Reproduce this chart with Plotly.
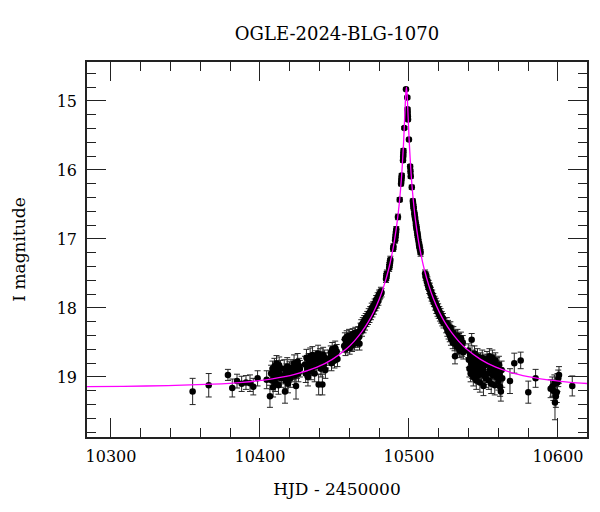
import plotly.graph_objects as go

# ---------------- data ----------------
hjd = [
    10354.8, 10365.6, 10378.5, 10381.4, 10384.6, 10387.7, 10390.6, 10393.3, 10395.5, 10398.4,
    10404.5, 10406.7,
    10407.5, 10408.0, 10408.4, 10408.8, 10409.3, 10409.7, 10410.2, 10410.6, 10411.1, 10411.5,
    10412.0, 10412.4, 10412.9, 10413.3, 10413.8, 10414.3,
    10415.8, 10416.3, 10416.8, 10417.3, 10417.8, 10418.3, 10418.8, 10419.3, 10419.8, 10420.3,
    10420.8, 10421.3,
    10422.4, 10422.9, 10423.4, 10423.9, 10424.2, 10424.8, 10425.3, 10425.8, 10426.3, 10426.8,
    10430.2, 10430.7, 10431.2, 10431.7, 10432.2, 10432.7, 10433.2, 10433.7, 10434.2, 10434.7,
    10435.2, 10435.7, 10436.2, 10436.7, 10437.2, 10437.7,
    10439.0, 10439.4, 10439.9, 10440.4, 10440.9, 10441.4, 10441.9, 10442.4, 10442.9, 10443.4,
    10443.9, 10444.4,
    10447.0, 10447.5, 10448.0, 10448.5, 10449.0, 10449.5, 10450.0, 10450.5, 10451.0, 10451.5,
    10452.0,
    10456.5, 10457.0, 10457.4, 10457.8, 10458.2, 10458.6, 10459.0, 10459.4, 10459.8, 10460.2,
    10460.6, 10461.0, 10461.4, 10461.8, 10462.2, 10462.6, 10463.0, 10463.5, 10464.0, 10464.5,
    10465.0, 10465.5, 10466.0, 10466.5, 10466.8,
    10467.5, 10468.0, 10468.5, 10469.0, 10469.5, 10470.0, 10470.5, 10471.0, 10471.5, 10472.0,
    10472.5, 10473.0, 10473.5, 10474.0, 10474.5, 10475.0, 10475.5, 10476.0, 10476.5, 10477.0,
    10477.5, 10478.0, 10478.5, 10479.0, 10479.5, 10480.0, 10480.4, 10480.8, 10481.2, 10481.6,
    10484.6, 10484.8, 10485.0, 10485.2, 10486.7, 10486.9, 10487.1, 10487.3, 10487.5,
    10489.4, 10489.6, 10490.7, 10490.9, 10491.1, 10491.3, 10491.5, 10492.6, 10493.8,
    10494.7, 10494.85, 10495.0, 10495.15, 10496.0, 10496.1, 10496.2, 10496.3, 10496.9,
    10498.0, 10498.9, 10499.05, 10499.15, 10499.25, 10499.35, 10500.0, 10500.8, 10501.0,
    10501.2, 10501.9,
    10502.6, 10502.8, 10503.0, 10503.2, 10503.6, 10503.8, 10504.0, 10504.2, 10504.6, 10504.8,
    10505.0, 10505.2, 10505.6, 10505.8, 10506.0, 10506.2, 10506.6, 10506.8, 10507.0, 10507.2,
    10507.6, 10507.8,
    10510.8, 10511.2, 10511.6, 10512.0, 10512.4, 10512.8, 10513.2, 10513.6, 10514.0, 10514.4,
    10514.8, 10515.2, 10515.6, 10516.0, 10516.4, 10516.8, 10517.2, 10517.6, 10518.0, 10518.4,
    10518.8, 10519.2, 10519.6, 10520.0, 10520.4, 10520.8, 10521.2, 10521.6, 10522.0, 10522.4,
    10522.8, 10523.2,
    10525.0, 10525.4, 10525.8, 10526.2, 10526.6, 10527.0, 10527.4, 10527.8, 10528.2, 10528.6,
    10529.0, 10529.4, 10529.8, 10530.2, 10530.6, 10530.9, 10531.3, 10531.7, 10532.1, 10532.5,
    10532.9, 10533.3, 10533.7, 10534.1, 10534.5, 10534.9, 10535.3, 10535.7, 10536.1, 10536.5,
    10542.1,
    10539.8, 10540.2, 10540.6, 10541.0, 10541.4, 10541.8, 10542.4, 10542.8, 10543.2, 10543.6,
    10544.0, 10544.4, 10544.8, 10545.2, 10545.6, 10546.0, 10546.4, 10546.8, 10547.2, 10547.6,
    10548.0, 10548.4, 10548.8, 10549.2, 10549.6, 10550.0, 10550.4, 10550.8, 10551.2, 10551.6,
    10552.4, 10552.8, 10553.2, 10553.6, 10554.0, 10554.4, 10554.8, 10555.2, 10555.6, 10556.0,
    10556.4, 10556.8, 10557.2, 10557.6, 10558.0, 10558.4, 10558.8, 10559.2, 10559.6, 10560.0,
    10560.4, 10560.8, 10561.2, 10561.7, 10562.2, 10562.6,
    10567.8, 10570.7, 10575.0, 10580.1, 10585.0,
    10595.1, 10596.2, 10596.9, 10597.6, 10598.0, 10598.6, 10599.2, 10599.7, 10600.2, 10600.7,
    10609.6,
]

imag = [
    19.21, 19.12, 18.97, 19.16, 19.06, 19.10, 19.08, 19.09, 19.14, 19.02,
    19.04, 19.28,
    18.95, 19.05, 18.88, 19.15, 18.98, 18.85, 19.08, 18.92, 18.80, 19.00,
    18.90, 19.12, 18.83, 18.96, 18.88, 19.02,
    18.98, 18.88, 19.21, 19.05, 18.93, 18.85, 19.10, 18.96, 18.90, 19.02,
    18.87, 18.95,
    18.92, 18.80, 18.98, 18.86, 19.13, 18.90, 18.78, 18.95, 18.84, 18.88,
    18.82, 18.95, 18.72, 18.88, 19.00, 18.78, 18.85, 18.70, 18.92, 18.80,
    18.68, 18.86, 18.76, 18.95, 18.73, 18.84,
    18.66, 19.11, 18.78, 18.70, 18.88, 18.75, 19.11, 18.68, 18.82, 18.72,
    18.90, 18.76,
    18.72, 18.65, 18.80, 18.60, 18.70, 18.66, 18.76, 18.58, 18.68, 18.63,
    18.74,
    18.55, 18.45, 18.60, 18.50, 18.42, 18.56, 18.47, 18.52, 18.40, 18.58,
    18.46, 18.50, 18.43, 18.54, 18.38, 18.48, 18.42, 18.52, 18.36, 18.45,
    18.40, 18.48, 18.35, 18.42, 18.52,
    18.30, 18.25, 18.33, 18.22, 18.28, 18.18, 18.24, 18.15, 18.20, 18.12,
    18.17, 18.08, 18.14, 18.05, 18.10, 18.00, 18.06, 17.97, 18.02, 17.93,
    17.98, 17.88, 17.94, 17.84, 17.90, 17.80, 17.82, 17.80, 17.76, 17.78,
    17.58, 17.55, 17.52, 17.50, 17.42, 17.39, 17.36, 17.33, 17.30,
    17.14, 17.11, 17.02, 16.98, 16.94, 16.90, 16.86, 16.68, 16.43,
    16.20, 16.16, 16.12, 16.08, 15.86, 15.81, 15.77, 15.72, 15.39,
    14.83, 14.95, 15.12, 15.17, 15.22, 15.27, 15.56, 15.95, 16.02,
    16.09, 16.25,
    16.45, 16.49, 16.53, 16.56, 16.62, 16.65, 16.68, 16.71, 16.77, 16.80,
    16.83, 16.86, 16.91, 16.94, 16.97, 17.00, 17.05, 17.08, 17.10, 17.13,
    17.17, 17.20,
    17.50, 17.55, 17.53, 17.62, 17.60, 17.68, 17.66, 17.73, 17.70, 17.79,
    17.76, 17.84, 17.80, 17.88, 17.85, 17.92, 17.89, 17.96, 17.93, 18.01,
    17.97, 18.05, 18.01, 18.08, 18.05, 18.12, 18.08, 18.15, 18.12, 18.19,
    18.15, 18.22,
    18.28, 18.22, 18.33, 18.26, 18.36, 18.30, 18.40, 18.28, 18.45, 18.34,
    18.38, 18.50, 18.36, 18.44, 18.52, 18.70, 18.42, 18.48, 18.56, 18.40,
    18.50, 18.58, 18.46, 18.62, 18.52, 18.44, 18.55, 18.60, 18.50, 18.64,
    18.46,
    18.62, 18.75, 18.88, 18.68, 18.95, 18.80, 18.90, 18.72, 19.00, 18.84,
    18.66, 18.93, 18.78, 19.05, 18.86, 18.70, 18.98, 18.82, 18.92, 19.08,
    18.76, 18.88, 18.96, 18.72, 18.90, 19.13, 18.84, 18.98, 18.78, 19.02,
    18.74, 18.95, 18.82, 19.05, 18.70, 18.90, 18.78, 19.10, 18.86, 18.72,
    18.98, 18.80, 18.92, 19.12, 18.76, 18.88, 19.00, 18.84, 18.94, 19.06,
    18.82, 18.96, 19.14, 19.21, 18.90, 19.02,
    19.06, 18.80, 18.76, 19.22, 19.02,
    19.17, 19.14, 19.20, 19.10, 19.37, 19.28, 19.22, 19.08, 19.02, 18.97,
    19.13,
]

ierr = [
    0.19, 0.17, 0.08, 0.13, 0.10, 0.11, 0.10, 0.12, 0.12, 0.11,
    0.13, 0.16,
    0.12, 0.13, 0.11, 0.14, 0.12, 0.12, 0.13, 0.12, 0.11, 0.12,
    0.12, 0.13, 0.12, 0.12, 0.12, 0.13,
    0.12, 0.13, 0.17, 0.12, 0.12, 0.13, 0.13, 0.12, 0.12, 0.13,
    0.12, 0.12,
    0.12, 0.12, 0.13, 0.11, 0.19, 0.12, 0.12, 0.12, 0.11, 0.12,
    0.12, 0.13, 0.12, 0.12, 0.13, 0.12, 0.12, 0.12, 0.12, 0.11,
    0.12, 0.12, 0.11, 0.12, 0.11, 0.12,
    0.12, 0.15, 0.12, 0.11, 0.12, 0.12, 0.15, 0.11, 0.12, 0.11,
    0.12, 0.11,
    0.11, 0.10, 0.11, 0.10, 0.10, 0.10, 0.11, 0.10, 0.10, 0.10,
    0.11,
    0.09, 0.09, 0.09, 0.09, 0.09, 0.09, 0.09, 0.09, 0.09, 0.09,
    0.09, 0.09, 0.09, 0.09, 0.08, 0.09, 0.08, 0.09, 0.08, 0.08,
    0.08, 0.09, 0.08, 0.08, 0.09,
    0.08, 0.08, 0.08, 0.08, 0.08, 0.07, 0.08, 0.07, 0.07, 0.07,
    0.07, 0.07, 0.07, 0.07, 0.07, 0.07, 0.07, 0.06, 0.07, 0.06,
    0.06, 0.06, 0.06, 0.06, 0.06, 0.06, 0.06, 0.06, 0.06, 0.06,
    0.05, 0.05, 0.05, 0.05, 0.05, 0.05, 0.05, 0.05, 0.05,
    0.04, 0.04, 0.04, 0.04, 0.04, 0.04, 0.04, 0.04, 0.03,
    0.03, 0.03, 0.03, 0.03, 0.03, 0.03, 0.03, 0.03, 0.02,
    0.02, 0.02, 0.02, 0.02, 0.02, 0.02, 0.02, 0.03, 0.03,
    0.03, 0.03,
    0.03, 0.03, 0.03, 0.03, 0.03, 0.03, 0.03, 0.03, 0.04, 0.04,
    0.04, 0.04, 0.04, 0.04, 0.04, 0.04, 0.04, 0.04, 0.04, 0.04,
    0.05, 0.05,
    0.05, 0.05, 0.05, 0.05, 0.05, 0.05, 0.06, 0.06, 0.06, 0.06,
    0.06, 0.06, 0.06, 0.06, 0.06, 0.06, 0.06, 0.07, 0.07, 0.07,
    0.07, 0.07, 0.07, 0.07, 0.07, 0.07, 0.07, 0.07, 0.07, 0.07,
    0.07, 0.07,
    0.08, 0.08, 0.08, 0.08, 0.09, 0.08, 0.09, 0.08, 0.09, 0.08,
    0.09, 0.09, 0.09, 0.09, 0.10, 0.11, 0.09, 0.09, 0.10, 0.09,
    0.09, 0.10, 0.09, 0.10, 0.10, 0.09, 0.10, 0.10, 0.10, 0.10,
    0.09,
    0.10, 0.11, 0.12, 0.10, 0.12, 0.11, 0.12, 0.11, 0.13, 0.12,
    0.11, 0.12, 0.11, 0.13, 0.12, 0.11, 0.12, 0.12, 0.12, 0.14,
    0.11, 0.12, 0.13, 0.11, 0.12, 0.14, 0.12, 0.13, 0.11, 0.13,
    0.11, 0.13, 0.12, 0.13, 0.11, 0.12, 0.11, 0.14, 0.12, 0.11,
    0.13, 0.12, 0.12, 0.14, 0.11, 0.12, 0.13, 0.12, 0.13, 0.13,
    0.12, 0.13, 0.14, 0.14, 0.13, 0.13,
    0.18, 0.145, 0.12, 0.16, 0.13,
    0.13, 0.14, 0.14, 0.13, 0.25, 0.16, 0.15, 0.13, 0.12, 0.12,
    0.145,
]

# model light curve
model_hjd = [
    10283.3, 10308.3, 10338.3, 10368.3, 10388.3, 10408.3, 10423.3, 10438.3, 10448.3, 10458.3,
    10463.3, 10468.3, 10472.3, 10476.3, 10480.3, 10483.3, 10486.3, 10488.3, 10490.3, 10492.3,
    10493.3, 10494.3, 10495.3, 10496.3, 10496.8, 10497.3, 10497.8, 10498.3, 10498.8, 10499.3,
    10499.8, 10500.3, 10501.3, 10502.3, 10503.3, 10504.3, 10506.3, 10508.3, 10510.3, 10513.3,
    10516.3, 10520.3, 10524.3, 10528.3, 10533.3, 10538.3, 10548.3, 10558.3, 10573.3, 10588.3,
    10608.3, 10620.0,
]
model_imag = [
    19.140, 19.135, 19.125, 19.104, 19.077, 19.028, 18.964, 18.858, 18.748, 18.588,
    18.480, 18.347, 18.217, 18.057, 17.859, 17.673, 17.442, 17.252, 17.017, 16.715,
    16.525, 16.297, 16.011, 15.640, 15.411, 15.155, 14.911, 14.798, 14.911, 15.155,
    15.411, 15.640, 16.011, 16.297, 16.525, 16.715, 17.017, 17.252, 17.442, 17.673,
    17.859, 18.057, 18.217, 18.347, 18.480, 18.588, 18.748, 18.858, 18.964, 19.028,
    19.077, 19.095,
]

x_ticks = [10300, 10400, 10500, 10600]
x_tick_labels = ["10300", "10400", "10500", "10600"]
y_ticks = [15, 16, 17, 18, 19]
y_tick_labels = ["15", "16", "17", "18", "19"]

# ---------------- figure ----------------
FONT = "DejaVu Serif"
# the page body has an 8 px margin; the figure is sized so it fills the 600x512 window
W, H, BODY = 592, 504, 8

fig = go.Figure()
fig.add_trace(go.Scatter(
    x=hjd, y=imag, mode="markers",
    marker=dict(color="black", size=6.5),
    error_y=dict(type="data", array=ierr, visible=True,
                 color="#262626", thickness=1, width=3),
    hoverinfo="skip",
))
fig.add_trace(go.Scatter(
    x=model_hjd, y=model_imag, mode="lines",
    line=dict(color="#ff00ff", width=1.3, shape="spline", smoothing=0.6),
    hoverinfo="skip",
))

axis_common = dict(
    showgrid=False, zeroline=False, showline=True, linecolor="#222222", linewidth=1.5,
    mirror="allticks", ticks="inside", ticklen=19, tickwidth=1, tickcolor="#222222",
    tickfont=dict(family=FONT, size=16, color="black"),
    automargin=False,
)

fig.update_layout(
    width=W, height=H,
    margin=dict(l=87 - BODY, r=13, t=62 - BODY, b=H - (437 - BODY)),
    paper_bgcolor="white", plot_bgcolor="white",
    showlegend=False,
    font=dict(family=FONT, color="black"),
    title=dict(text="OGLE-2024-BLG-1070", x=0.5, xref="paper", xanchor="center",
               y=1 - (34 - BODY) / H, yref="container", yanchor="middle",
               font=dict(family=FONT, size=18, color="black")),
)
fig.update_xaxes(
    range=[10283.9, 10619.5], tickvals=x_ticks, ticktext=x_tick_labels,
    minor=dict(ticks="inside", dtick=20, tick0=10300, ticklen=9, tickwidth=1, tickcolor="#222222"),
    title=dict(text="HJD - 2450000", font=dict(family=FONT, size=17), standoff=18),
    ticklabelstandoff=4,
    **axis_common,
)
fig.update_yaxes(
    range=[19.87, 14.435], tickvals=y_ticks, ticktext=y_tick_labels,
    minor=dict(ticks="inside", dtick=0.2, tick0=15, ticklen=9, tickwidth=1, tickcolor="#222222"),
    title=dict(text="I magnitude", font=dict(family=FONT, size=17), standoff=27),
    ticklabelstandoff=5,
    **axis_common,
)

fig.write_html("out.html")
